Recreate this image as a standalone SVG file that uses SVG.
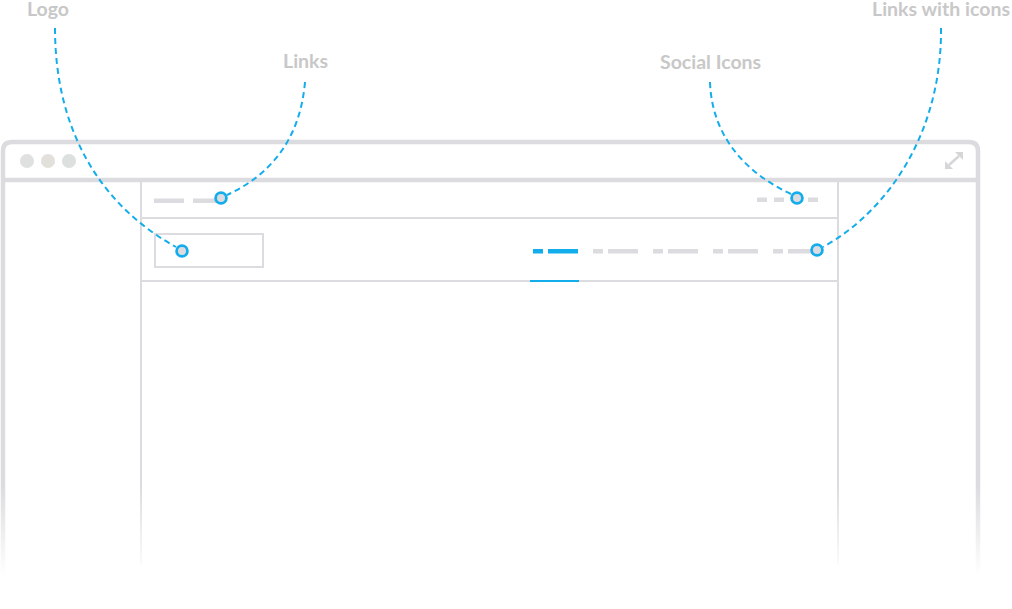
<svg xmlns="http://www.w3.org/2000/svg" width="1012" height="609" viewBox="0 0 1012 609">
<defs>
<style>
.frame{fill:none;stroke:#dcdce0;stroke-width:4.5}
.page{fill:none;stroke:#dcdce0;stroke-width:2}
.dash{fill:#dcdce0}
.act{fill:#13adeb}
.conn{fill:none;stroke:#13adeb;stroke-width:2;stroke-dasharray:6 4}
.pin{fill:#dcdce0;stroke:#13adeb;stroke-width:2.8}
.lbl{font-family:Lato,"Liberation Sans",sans-serif;font-weight:bold;font-size:19.5px;fill:#c8c8c8}
</style>
<linearGradient id="fade" x1="0" y1="0" x2="0" y2="1">
<stop offset="0" stop-color="#fff" stop-opacity="0"/>
<stop offset="1" stop-color="#fff" stop-opacity="1"/>
</linearGradient>
</defs>
<rect width="1012" height="609" fill="#fff"/>
<g id="browser">
<path class="frame" d="M3,575 V151 Q3,142 12,142 H969 Q978,142 978,151 V575"/>
<line class="frame" x1="3" y1="180" x2="978" y2="180"/>
<circle cx="27" cy="161" r="7" fill="#dee1df"/>
<circle cx="48" cy="161" r="7" fill="#e3e0dc"/>
<circle cx="69" cy="161" r="7" fill="#dce0de"/>
<g id="expand" fill="#d6d6d8" stroke="#d6d6d8">
<line x1="949" y1="165" x2="959" y2="156" stroke-width="2.5"/>
<polygon points="945,169 945,161 953,169" stroke="none"/>
<polygon points="963,152 955,152 963,160" stroke="none"/>
</g>
</g>
<g id="page">
<line class="page" x1="141" y1="182" x2="141" y2="565"/>
<line class="page" x1="838" y1="182" x2="838" y2="565"/>
<line class="page" x1="141" y1="218" x2="838" y2="218"/>
<line class="page" x1="141" y1="281" x2="838" y2="281"/>
<rect x="530" y="280" width="49" height="2" class="act"/>
</g>
<rect x="0" y="485" width="1012" height="90" fill="url(#fade)"/>
<g id="top-links">
<rect class="dash" x="154" y="198.5" width="30" height="4.5"/>
<rect class="dash" x="193" y="198.5" width="26" height="4.5"/>
</g>
<g id="logo-box">
<rect class="page" x="155" y="234" width="108" height="33"/>
</g>
<g id="social-icons">
<rect class="dash" x="757" y="197.5" width="10" height="4.5"/>
<rect class="dash" x="774" y="197.5" width="10" height="4.5"/>
<rect class="dash" x="808" y="197.5" width="10" height="4.5"/>
</g>
<g id="nav-links">
<rect class="act" x="533" y="249" width="10" height="4.5"/>
<rect class="act" x="548" y="249" width="30" height="4.5"/>
<rect class="dash" x="593" y="249" width="10" height="4.5"/>
<rect class="dash" x="608" y="249" width="30" height="4.5"/>
<rect class="dash" x="653" y="249" width="10" height="4.5"/>
<rect class="dash" x="668" y="249" width="30" height="4.5"/>
<rect class="dash" x="713" y="249" width="10" height="4.5"/>
<rect class="dash" x="728" y="249" width="30" height="4.5"/>
<rect class="dash" x="773" y="249" width="10" height="4.5"/>
<rect class="dash" x="788" y="249" width="26" height="4.5"/>
</g>
<g id="connectors">
<path class="conn" d="M55,28 C55,130 100,205 176,247"/>
<path class="conn" d="M305,82 C300,140 270,175 227,195"/>
<path class="conn" d="M710,82 C712,140 750,175 791,194"/>
<path class="conn" d="M941,28 C942,130 890,210 823,247"/>
</g>
<g id="pins">
<circle class="pin" cx="221" cy="198" r="5.4"/>
<circle class="pin" cx="182" cy="251" r="5.4"/>
<circle class="pin" cx="797" cy="198" r="5.4"/>
<circle class="pin" cx="817" cy="250" r="5.4"/>
</g>
<g id="labels">
<text class="lbl" x="27" y="16">Logo</text>
<text class="lbl" x="283" y="68">Links</text>
<text class="lbl" x="660" y="69">Social Icons</text>
<text class="lbl" x="872" y="16">Links with icons</text>
</g>
</svg>
